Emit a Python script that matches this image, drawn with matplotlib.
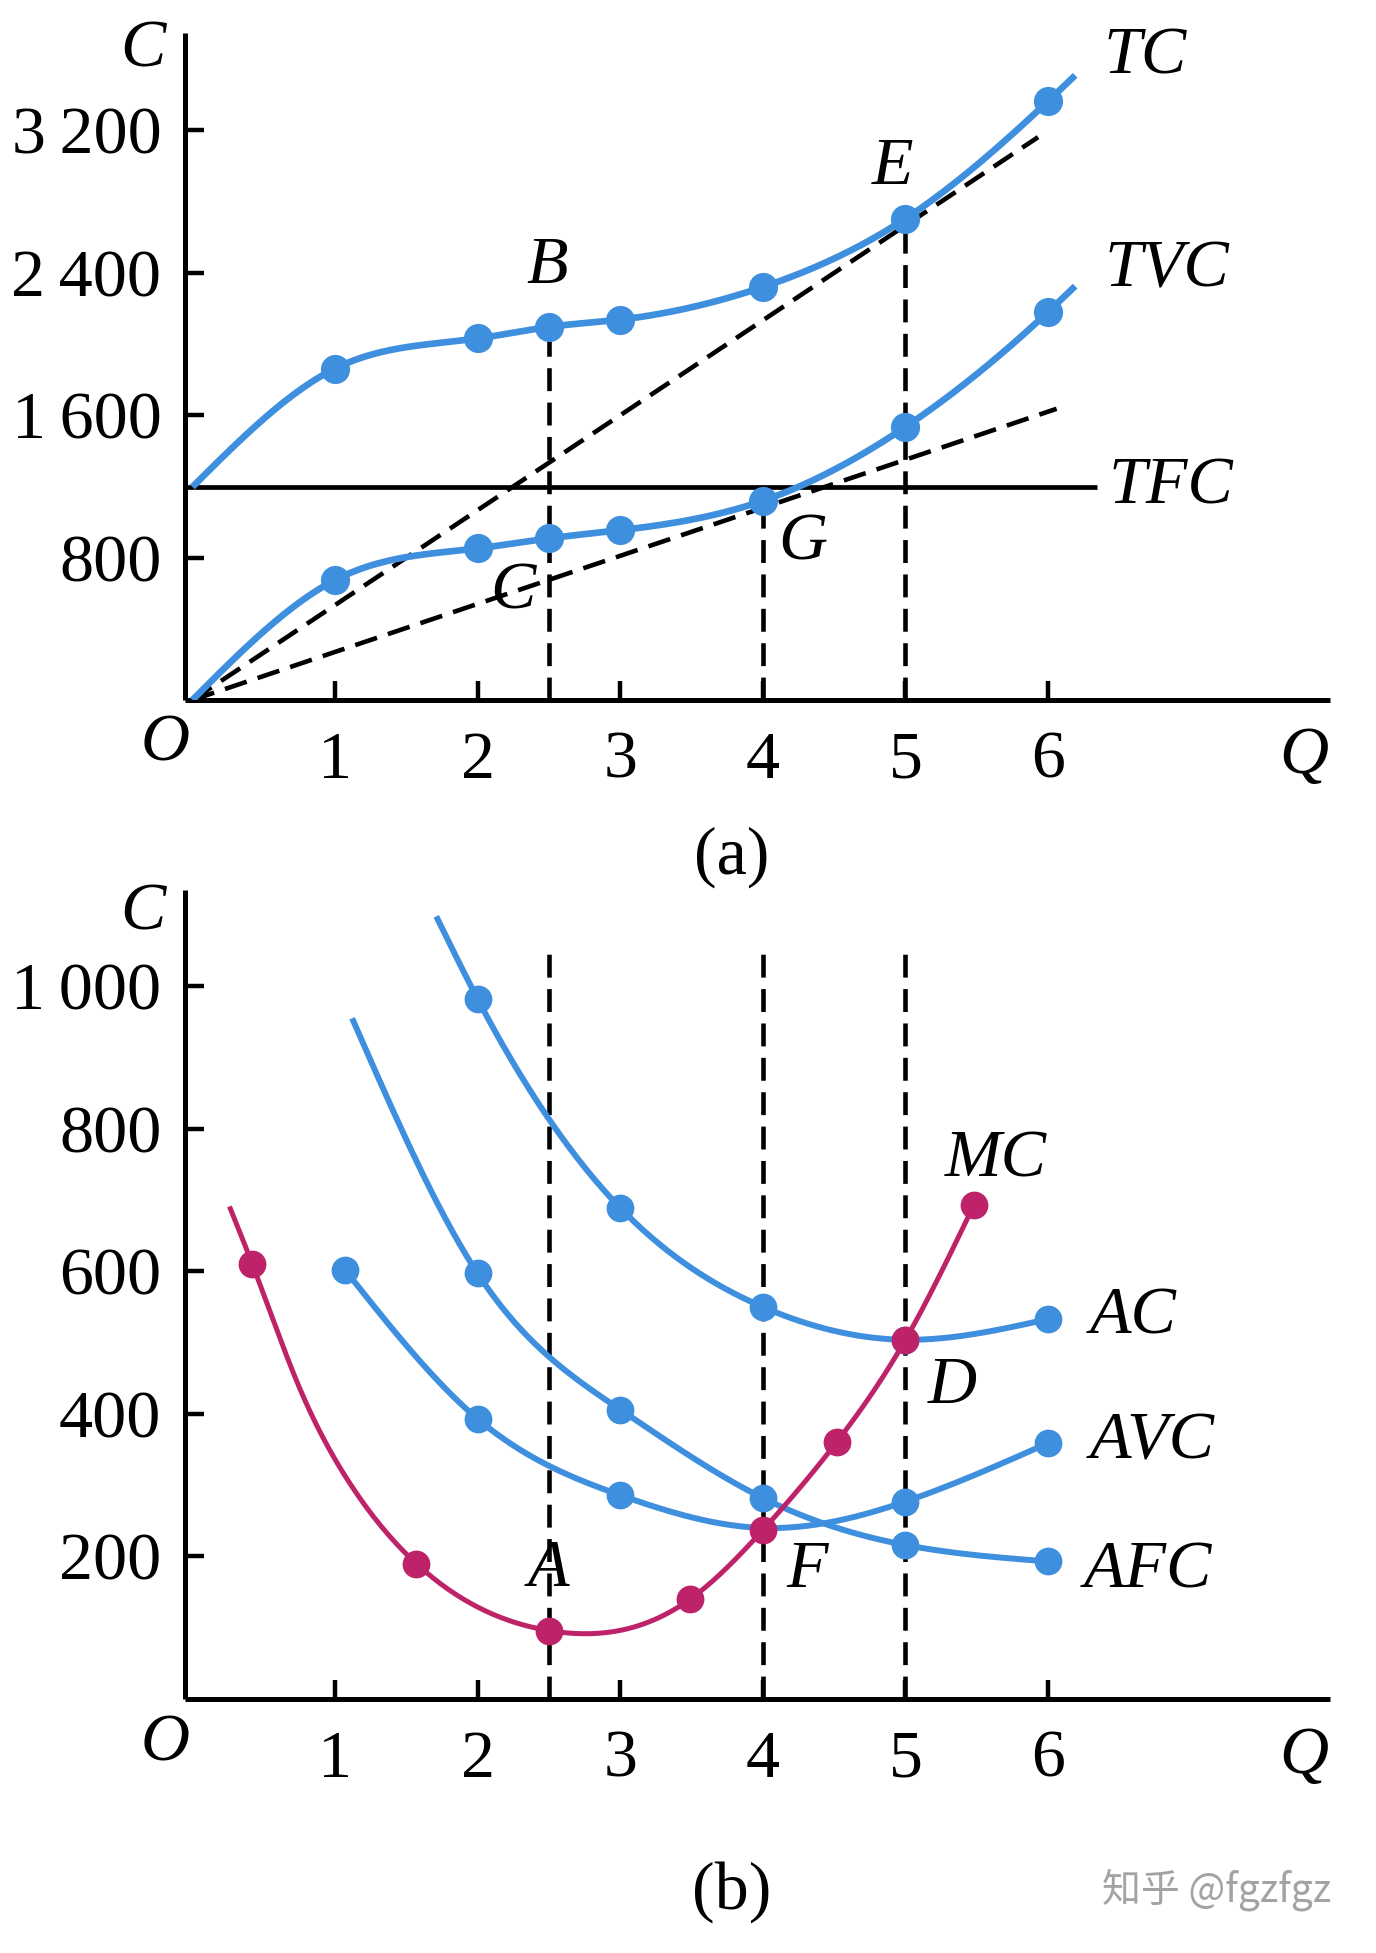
import matplotlib
matplotlib.use("Agg")
import matplotlib.pyplot as plt
import numpy as np

plt.rcParams['font.family'] = ['Liberation Serif', 'DejaVu Serif']

# ---- panel (a) : totals ----
q_tc = [0, 1, 2, 2.5, 3, 4, 5, 6, 6.19]
tc = [1197, 1862, 2031, 2096, 2137, 2320, 2704, 3364, 3509]
tvc = [0, 674, 852, 908, 954, 1119, 1534, 2180, 2325]
q_dots_a = [1, 2, 2.5, 3, 4, 5, 6]
tfc = 1197
tfc_end = 6.34
ray_tc = ([0, 5.93], [0, 3162])
ray_tvc = ([0, 6.06], [0, 1636])
ticks_a = [800, 1600, 2400, 3200]
ticklab_a = ["800", "1\u2009600", "2\u2009400", "3\u2009200"]

# ---- panel (b) : averages / marginal ----
q_ac = [1.71, 2, 3, 4, 5, 6]
ac = [1098, 982, 689, 550, 504, 533]
q_afc = [1.12, 2, 3, 4, 5, 6]
afc = [955, 597, 406, 282, 216, 193]
q_avc = [1.07, 2, 3, 4, 5, 6]
avc = [602, 393, 286, 240, 277, 359]
q_mc = [0.26, 0.42, 0.75, 1.08, 1.57, 2.5, 3.49, 4.0, 4.52, 5.0, 5.48]
mc = [691, 610, 437, 310, 190, 96, 140, 237, 361, 504, 693]
mc_dots = [1, 4, 5, 6, 7, 8, 9, 10]
ticks_b = [200, 400, 600, 800, 1000]
ticklab_b = ["200", "400", "600", "800", "1\u2009000"]
q_ticks = [1, 2, 3, 4, 5, 6]

BLUE = '#3f8fdf'
RED = '#be2369'
W, H = 1376, 1953
FS = 49


def natural_spline(xp, yp, num=300):
    """ spline cubique naturelle, sans scipy """
    xp = np.asarray(xp, float); yp = np.asarray(yp, float)
    n = len(xp)
    h = np.diff(xp)
    A = np.zeros((n, n)); b = np.zeros(n)
    A[0, 0] = A[-1, -1] = 1
    for i in range(1, n - 1):
        A[i, i - 1] = h[i - 1]; A[i, i] = 2 * (h[i - 1] + h[i]); A[i, i + 1] = h[i]
        b[i] = 6 * ((yp[i + 1] - yp[i]) / h[i] - (yp[i] - yp[i - 1]) / h[i - 1])
    M = np.linalg.solve(A, b)
    xs = np.linspace(xp[0], xp[-1], num)
    idx = np.clip(np.searchsorted(xp, xs) - 1, 0, n - 2)
    x0, x1 = xp[idx], xp[idx + 1]
    hh = x1 - x0
    t0, t1 = x1 - xs, xs - x0
    ys = (M[idx] * t0 ** 3 + M[idx + 1] * t1 ** 3) / (6 * hh) \
        + (yp[idx] / hh - M[idx] * hh / 6) * t0 + (yp[idx + 1] / hh - M[idx + 1] * hh / 6) * t1
    return xs, ys


def style_axes(ax, yticks, ylabels):
    for s in ['top', 'right']:
        ax.spines[s].set_visible(False)
    for s in ['left', 'bottom']:
        ax.spines[s].set_linewidth(3.6)
        ax.spines[s].set_capstyle('butt')
    ax.set_xticks(q_ticks)
    ax.set_xticklabels([str(q) for q in q_ticks])
    ax.set_yticks(yticks)
    ax.set_yticklabels(ylabels)
    ax.tick_params(axis='both', direction='in', length=14, width=3.2, labelsize=FS)
    ax.tick_params(axis='x', pad=22)
    ax.tick_params(axis='y', pad=17)


def dash(ax, x, y):
    ax.plot(x, y, color='black', lw=3.3, dashes=(5, 2.5), zorder=1)


def label(ax, x, y, s, italic=True, **kw):
    ax.text(x, y, s, fontsize=FS, style='italic' if italic else 'normal',
            ha='center', va='center', clip_on=False, **kw)


fig = plt.figure(figsize=(W / 100, H / 100), dpi=100)

# ================= (a) =================
ax1 = fig.add_axes([185 / W, 1 - 700 / H, (1330 - 185) / W, (700 - 33) / H])
ax1.set_xlim(-0.052, 7.977)
ax1.set_ylim(0, 3747)
style_axes(ax1, ticks_a, ticklab_a)

dash(ax1, *ray_tc)
dash(ax1, *ray_tvc)
dash(ax1, [2.5, 2.5], [0, tc[3]])
dash(ax1, [4, 4], [0, tvc[5]])
dash(ax1, [5, 5], [0, tc[6]])
ax1.plot([-0.052, tfc_end], [tfc, tfc], color='black', lw=3.4, zorder=2, solid_capstyle='butt')

for ys in (tc, tvc):
    xs_, ys_ = natural_spline(q_tc, ys)
    ax1.plot(xs_, ys_, color=BLUE, lw=4.8, zorder=3, solid_capstyle='butt')
    dots = [ys[q_tc.index(q)] for q in q_dots_a]
    ax1.plot(q_dots_a, dots, 'o', color=BLUE, ms=21, mew=0, zorder=4)

label(ax1, 2.49, 2438, "B")
label(ax1, 4.91, 2994, "E")
label(ax1, 2.25, 607, "C")
label(ax1, 4.28, 882, "G")
label(ax1, 6.68, 3612, "TC")
label(ax1, 6.83, 2416, "TVC")
label(ax1, 6.86, 1197, "TFC")
label(ax1, -0.35, 3652, "C")
label(ax1, -0.19, -247, "O")
label(ax1, 7.79, -320, "Q")
label(ax1, 3.78, -882, "(a)", italic=False)

# ================= (b) =================
ax2 = fig.add_axes([185 / W, 1 - 1699 / H, (1330 - 185) / W, (1699 - 890) / H])
ax2.set_xlim(-0.052, 7.977)
ax2.set_ylim(0, 1135)
style_axes(ax2, ticks_b, ticklab_b)

for q in (2.5, 4, 5):
    dash(ax2, [q, q], [0, 1056])

curves = [(q_ac, ac, [2, 3, 4, 5, 6]), (q_afc, afc, [2, 3, 4, 5, 6]), (q_avc, avc, [1.07, 2, 3, 5, 6])]
for qs, vals, dq in curves:
    xs_, ys_ = natural_spline(qs, vals)
    ax2.plot(xs_, ys_, color=BLUE, lw=4.3, zorder=3, solid_capstyle='butt')
    ax2.plot(dq, [vals[qs.index(q)] for q in dq], 'o', color=BLUE, ms=20, mew=0, zorder=4)

xs_, ys_ = natural_spline(q_mc, mc)
ax2.plot(xs_, ys_, color=RED, lw=3.6, zorder=5, solid_capstyle='butt')
ax2.plot([q_mc[i] for i in mc_dots], [mc[i] for i in mc_dots], 'o', color=RED, ms=20, mew=0, zorder=6)

label(ax2, 5.63, 756, "MC")
label(ax2, 6.60, 536, "AC")
label(ax2, 5.33, 438, "D")
label(ax2, 6.73, 360, "AVC")
label(ax2, 6.70, 180, "AFC")
label(ax2, 4.31, 180, "F")
label(ax2, 2.50, 181, "A")
label(ax2, -0.35, 1103, "C")
label(ax2, -0.19, -63, "O")
label(ax2, 7.79, -80, "Q")
label(ax2, 3.78, -271, "(b)", italic=False)
ax2.text(7.18, -267, "知乎 @fgzfgz", fontsize=28, color='#a3a3a3', ha='center', va='center',
         family=['Noto Sans CJK SC', 'DejaVu Sans'], clip_on=False)

fig.savefig("out.png", dpi=100)
